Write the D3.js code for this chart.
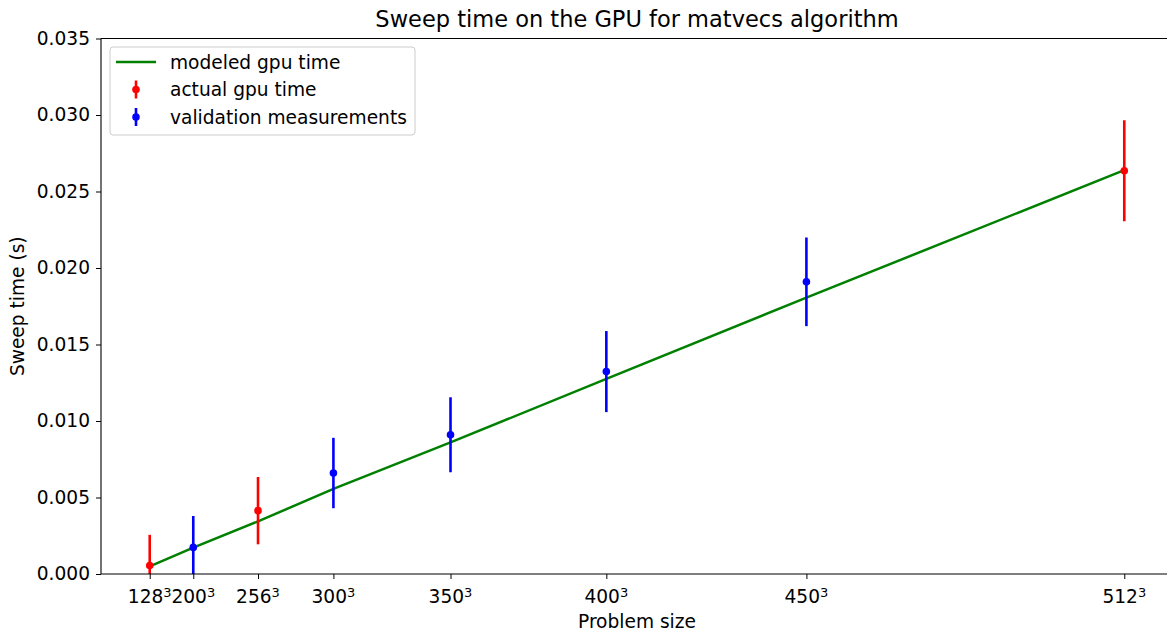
<!DOCTYPE html>
<html>
<head>
<meta charset="utf-8">
<script src="https://cdn.jsdelivr.net/npm/d3@7"></script>
<style>
  body { margin: 0; background: #fff; }
  text { font-family: "DejaVu Sans", sans-serif; fill: #000; }
</style>
</head>
<body>
<div id="chart"></div>
<script>
// Problem sizes (edge length, the x axis is N^3)
const tickSizes = [128, 200, 256, 300, 350, 400, 450, 512];

// modeled gpu time
const modelSizes = [128, 200, 256, 300, 350, 400, 450, 512];
const modelTime = [0.0005, 0.00172, 0.00344, 0.00556, 0.0086, 0.01275, 0.01806, 0.0264];

// actual gpu time
const actualSizes = [128, 256, 512];
const actualTime = [0.00056, 0.00414, 0.02636];
const actualErr = [0.0020, 0.0022, 0.0033];

// validation measurements
const validSizes = [200, 300, 350, 400, 450];
const validTime = [0.00174, 0.0066, 0.0091, 0.01323, 0.0191];
const validErr = [0.00205, 0.0023, 0.00245, 0.00265, 0.0029];

const yTicks = [0, 0.005, 0.010, 0.015, 0.020, 0.025, 0.030, 0.035];

const width = 1167, height = 632;
const plotLeft = 101, plotRight = 1173, plotTop = 38.5, plotBottom = 574;
const fontSize = "18.6px";

const svg = d3.select("#chart").append("svg")
  .attr("width", width)
  .attr("height", height);

const cube = n => n * n * n;
const lo = cube(128), hi = cube(512), pad = (hi - lo) * 0.05;

const x = d3.scaleLinear().domain([lo - pad, hi + pad]).range([plotLeft, plotRight]);
const y = d3.scaleLinear().domain([0, 0.035]).range([plotBottom, plotTop]);

svg.append("clipPath").attr("id", "plot-clip")
  .append("rect")
  .attr("x", plotLeft).attr("y", plotTop)
  .attr("width", plotRight - plotLeft).attr("height", plotBottom - plotTop);

const plot = svg.append("g").attr("clip-path", "url(#plot-clip)");

// modeled line
const line = d3.line()
  .x(d => x(cube(d[0])))
  .y(d => y(d[1]));

plot.append("path")
  .datum(d3.zip(modelSizes, modelTime))
  .attr("d", line)
  .attr("fill", "none")
  .attr("stroke", "#008000")
  .attr("stroke-width", 2.5);

// error bars
function drawErrorbars(sizes, times, errs, color) {
  const data = sizes.map((s, i) => ({ s: s, t: times[i], e: errs[i] }));
  const g = plot.append("g");
  g.selectAll("line")
    .data(data)
    .enter()
    .append("line")
    .attr("x1", d => x(cube(d.s)))
    .attr("x2", d => x(cube(d.s)))
    .attr("y1", d => y(d.t - d.e))
    .attr("y2", d => y(d.t + d.e))
    .attr("stroke", color)
    .attr("stroke-width", 2.6);
  g.selectAll("circle")
    .data(data)
    .enter()
    .append("circle")
    .attr("cx", d => x(cube(d.s)))
    .attr("cy", d => y(d.t))
    .attr("r", 3.8)
    .attr("fill", color);
}
drawErrorbars(actualSizes, actualTime, actualErr, "#ff0000");
drawErrorbars(validSizes, validTime, validErr, "#0000ff");

// spines
svg.append("line").attr("x1", plotLeft).attr("x2", plotLeft).attr("y1", plotTop).attr("y2", plotBottom)
  .attr("stroke", "#000").attr("stroke-width", 1.1);
svg.append("line").attr("x1", plotLeft).attr("x2", plotRight).attr("y1", plotBottom).attr("y2", plotBottom)
  .attr("stroke", "#000").attr("stroke-width", 1.1);
svg.append("line").attr("x1", plotLeft).attr("x2", plotRight).attr("y1", plotTop).attr("y2", plotTop)
  .attr("stroke", "#000").attr("stroke-width", 1.1);

// y axis
const yAxis = d3.axisLeft(y)
  .tickValues(yTicks)
  .tickFormat(d3.format(".3f"))
  .tickSize(5)
  .tickPadding(6);
const yg = svg.append("g").attr("transform", `translate(${plotLeft},0)`).call(yAxis);
yg.select(".domain").remove();
yg.selectAll("text").style("font-size", fontSize).attr("font-family", null);

// x axis with superscript labels
const xAxis = d3.axisBottom(x)
  .tickValues(tickSizes.map(cube))
  .tickFormat("")
  .tickSize(5);
const xg = svg.append("g").attr("transform", `translate(0,${plotBottom})`).call(xAxis);
xg.select(".domain").remove();

const xl = svg.append("g");
tickSizes.forEach(n => {
  const t = xl.append("text")
    .attr("x", x(cube(n)))
    .attr("y", 603)
    .attr("text-anchor", "middle")
    .style("font-size", fontSize);
  t.append("tspan").text(n);
  t.append("tspan").attr("dy", -6.5).style("font-size", "13px").text("3");
});

// axis labels and title
svg.append("text")
  .attr("x", (plotLeft + plotRight) / 2)
  .attr("y", 628)
  .attr("text-anchor", "middle")
  .style("font-size", fontSize)
  .text("Problem size");

svg.append("text")
  .attr("transform", `translate(24,${(plotTop + plotBottom) / 2}) rotate(-90)`)
  .attr("text-anchor", "middle")
  .style("font-size", fontSize)
  .text("Sweep time (s)");

svg.append("text")
  .attr("x", (plotLeft + plotRight) / 2)
  .attr("y", 27)
  .attr("text-anchor", "middle")
  .style("font-size", "22.5px")
  .text("Sweep time on the GPU for matvecs algorithm");

// legend
const legend = svg.append("g");
legend.append("rect")
  .attr("x", 110).attr("y", 47)
  .attr("width", 305).attr("height", 88)
  .attr("rx", 3)
  .attr("fill", "#fff").attr("fill-opacity", 0.8)
  .attr("stroke", "#ccc").attr("stroke-width", 1);

const legendItems = [
  { label: "modeled gpu time", color: "#008000", type: "line" },
  { label: "actual gpu time", color: "#ff0000", type: "err" },
  { label: "validation measurements", color: "#0000ff", type: "err" }
];
legendItems.forEach((d, i) => {
  const cy = 62 + i * 27.5;
  if (d.type === "line") {
    legend.append("line")
      .attr("x1", 116).attr("x2", 156).attr("y1", cy).attr("y2", cy)
      .attr("stroke", d.color).attr("stroke-width", 2.5);
  } else {
    legend.append("line")
      .attr("x1", 136).attr("x2", 136).attr("y1", cy - 9).attr("y2", cy + 9)
      .attr("stroke", d.color).attr("stroke-width", 2.6);
    legend.append("circle")
      .attr("cx", 136).attr("cy", cy).attr("r", 3.8)
      .attr("fill", d.color);
  }
  legend.append("text")
    .attr("x", 170).attr("y", cy + 6.5)
    .style("font-size", fontSize)
    .text(d.label);
});
</script>
</body>
</html>
